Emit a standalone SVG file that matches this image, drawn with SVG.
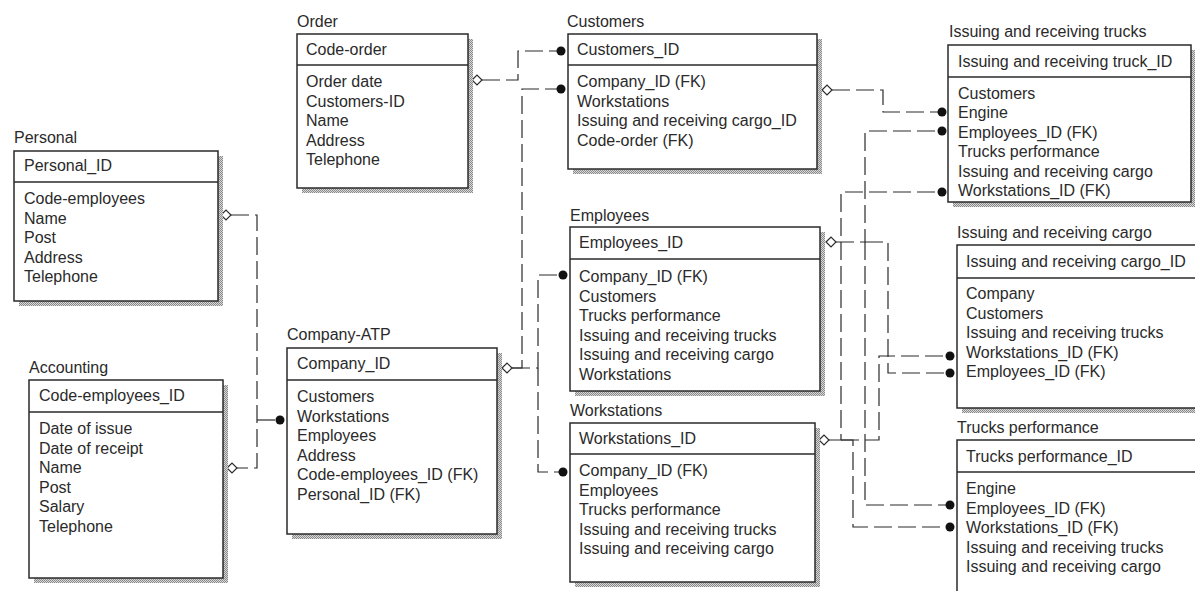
<svg xmlns="http://www.w3.org/2000/svg" width="1195" height="591" viewBox="0 0 1195 591">
<defs>
<pattern id="hatch" width="2" height="2" patternUnits="userSpaceOnUse">
<rect width="2" height="2" fill="#d8d8d8"/>
<rect width="1" height="1" fill="#8a8a8a"/>
<rect x="1" y="1" width="1" height="1" fill="#8a8a8a"/>
</pattern>
<style>
text{font-family:"Liberation Sans",Arial,sans-serif;font-size:16px;fill:#2a2a2a}
.sh{fill:url(#hatch)}
.box{fill:#fff;stroke:#2a2a2a;stroke-width:1.5}
.sep{stroke:#2a2a2a;stroke-width:1.5}
.rel{fill:none;stroke:#2a2a2a;stroke-width:1.2;stroke-dasharray:18 6}
.dia{fill:#fff;stroke:#2a2a2a;stroke-width:1.2}
.dot{fill:#111}
</style>
</defs>
<rect width="1195" height="591" fill="#fff"/>

<g id="connectors">
<path class="rel" d="M231,215 H257 V468 H237"/>
<path class="rel" d="M257,420 H280"/>
<path class="rel" d="M482,80 H518 V51 H561"/>
<path class="rel" d="M512,368 H522 V89 H561"/>
<path class="rel" d="M512,368 H538 V275 H563"/>
<path class="rel" d="M538,368 V472 H563"/>
<path class="rel" d="M832,90 H883 V112 H942"/>
<path class="rel" d="M836,242 H865 V131 H942"/>
<path class="rel" d="M865,242 V505 H950"/>
<path class="rel" d="M865,242 H888 V373 H950"/>
<path class="rel" d="M829,440 H841 V192 H942"/>
<path class="rel" d="M841,440 H879 V356 H950"/>
<path class="rel" d="M841,440 H853 V527 H950"/>
<polygon class="dia" points="221,215 226,210 231,215 226,220"/>
<polygon class="dia" points="227,468 232,463 237,468 232,473"/>
<polygon class="dia" points="472,80 477,75 482,80 477,85"/>
<polygon class="dia" points="502,368 507,363 512,368 507,373"/>
<polygon class="dia" points="822,90 827,85 832,90 827,95"/>
<polygon class="dia" points="826,242 831,237 836,242 831,247"/>
<polygon class="dia" points="819,440 824,435 829,440 824,445"/>
<circle class="dot" cx="280" cy="420" r="4.5"/>
<circle class="dot" cx="561" cy="51" r="4.5"/>
<circle class="dot" cx="561" cy="89" r="4.5"/>
<circle class="dot" cx="563" cy="275" r="4.5"/>
<circle class="dot" cx="563" cy="472" r="4.5"/>
<circle class="dot" cx="942" cy="112" r="4.5"/>
<circle class="dot" cx="942" cy="131" r="4.5"/>
<circle class="dot" cx="942" cy="192" r="4.5"/>
<circle class="dot" cx="950" cy="356" r="4.5"/>
<circle class="dot" cx="950" cy="373" r="4.5"/>
<circle class="dot" cx="950" cy="505" r="4.5"/>
<circle class="dot" cx="950" cy="527" r="4.5"/>
</g>

<g id="personal">
<text x="14" y="143">Personal</text>
<rect class="sh" x="19" y="156" width="204" height="150"/>
<rect class="box" x="14" y="151" width="204" height="150"/>
<line class="sep" x1="14" y1="182" x2="218" y2="182"/>
<text x="24" y="171">Personal_ID</text>
<text x="24" y="204">Code-employees</text>
<text x="24" y="223.5">Name</text>
<text x="24" y="243">Post</text>
<text x="24" y="262.5">Address</text>
<text x="24" y="282">Telephone</text>
</g>

<g id="accounting">
<text x="29" y="373">Accounting</text>
<rect class="sh" x="34" y="385" width="194" height="198"/>
<rect class="box" x="29" y="380" width="194" height="198"/>
<line class="sep" x1="29" y1="412" x2="223" y2="412"/>
<text x="39" y="401">Code-employees_ID</text>
<text x="39" y="434">Date of issue</text>
<text x="39" y="453.5">Date of receipt</text>
<text x="39" y="473">Name</text>
<text x="39" y="492.5">Post</text>
<text x="39" y="512">Salary</text>
<text x="39" y="531.5">Telephone</text>
</g>

<g id="order">
<text x="297" y="27">Order</text>
<rect class="sh" x="302" y="39" width="171" height="154"/>
<rect class="box" x="297" y="34" width="171" height="154"/>
<line class="sep" x1="297" y1="65" x2="468" y2="65"/>
<text x="306" y="55">Code-order</text>
<text x="306" y="87">Order date</text>
<text x="306" y="106.5">Customers-ID</text>
<text x="306" y="126">Name</text>
<text x="306" y="145.5">Address</text>
<text x="306" y="165">Telephone</text>
</g>

<g id="company-atp">
<text x="287" y="340">Company-ATP</text>
<rect class="sh" x="292" y="353" width="210" height="186"/>
<rect class="box" x="287" y="348" width="210" height="186"/>
<line class="sep" x1="287" y1="380" x2="497" y2="380"/>
<text x="297" y="369">Company_ID</text>
<text x="297" y="402">Customers</text>
<text x="297" y="421.5">Workstations</text>
<text x="297" y="441">Employees</text>
<text x="297" y="460.5">Address</text>
<text x="297" y="480">Code-employees_ID (FK)</text>
<text x="297" y="499.5">Personal_ID (FK)</text>
</g>

<g id="customers">
<text x="567" y="27">Customers</text>
<rect class="sh" x="573" y="39" width="249" height="135"/>
<rect class="box" x="568" y="34" width="249" height="135"/>
<line class="sep" x1="568" y1="65" x2="817" y2="65"/>
<text x="577" y="55">Customers_ID</text>
<text x="577" y="87">Company_ID (FK)</text>
<text x="577" y="106.5">Workstations</text>
<text x="577" y="126">Issuing and receiving cargo_ID</text>
<text x="577" y="145.5">Code-order (FK)</text>
</g>

<g id="employees">
<text x="570" y="221">Employees</text>
<rect class="sh" x="575" y="232" width="250" height="164"/>
<rect class="box" x="570" y="227" width="250" height="164"/>
<line class="sep" x1="570" y1="259" x2="820" y2="259"/>
<text x="579" y="248">Employees_ID</text>
<text x="579" y="282">Company_ID (FK)</text>
<text x="579" y="301.5">Customers</text>
<text x="579" y="321">Trucks performance</text>
<text x="579" y="340.5">Issuing and receiving trucks</text>
<text x="579" y="360">Issuing and receiving cargo</text>
<text x="579" y="379.5">Workstations</text>
</g>

<g id="workstations">
<text x="570" y="416">Workstations</text>
<rect class="sh" x="575" y="428" width="245" height="159"/>
<rect class="box" x="570" y="423" width="245" height="159"/>
<line class="sep" x1="570" y1="454" x2="815" y2="454"/>
<text x="579" y="444">Workstations_ID</text>
<text x="579" y="476">Company_ID (FK)</text>
<text x="579" y="495.5">Employees</text>
<text x="579" y="515">Trucks performance</text>
<text x="579" y="534.5">Issuing and receiving trucks</text>
<text x="579" y="554">Issuing and receiving cargo</text>
</g>

<g id="issuing-receiving-trucks">
<text x="949" y="37">Issuing and receiving trucks</text>
<rect class="sh" x="953" y="50" width="243" height="157"/>
<rect class="box" x="948" y="45" width="243" height="157"/>
<line class="sep" x1="948" y1="77" x2="1191" y2="77"/>
<text x="958" y="66.5">Issuing and receiving truck_ID</text>
<text x="958" y="98.5">Customers</text>
<text x="958" y="118">Engine</text>
<text x="958" y="137.5">Employees_ID (FK)</text>
<text x="958" y="157">Trucks performance</text>
<text x="958" y="176.5">Issuing and receiving cargo</text>
<text x="958" y="196">Workstations_ID (FK)</text>
</g>

<g id="issuing-receiving-cargo">
<text x="957" y="238">Issuing and receiving cargo</text>
<rect class="sh" x="962" y="250" width="250" height="163"/>
<rect class="box" x="957" y="245" width="250" height="163"/>
<line class="sep" x1="957" y1="278" x2="1207" y2="278"/>
<text x="966" y="267">Issuing and receiving cargo_ID</text>
<text x="966" y="299">Company</text>
<text x="966" y="318.5">Customers</text>
<text x="966" y="338">Issuing and receiving trucks</text>
<text x="966" y="357.5">Workstations_ID (FK)</text>
<text x="966" y="377">Employees_ID (FK)</text>
</g>

<g id="trucks-performance">
<text x="957" y="433">Trucks performance</text>
<rect class="sh" x="962" y="445" width="250" height="170"/>
<rect class="box" x="957" y="440" width="250" height="170"/>
<line class="sep" x1="957" y1="472" x2="1207" y2="472"/>
<text x="966" y="462">Trucks performance_ID</text>
<text x="966" y="494">Engine</text>
<text x="966" y="513.5">Employees_ID (FK)</text>
<text x="966" y="533">Workstations_ID (FK)</text>
<text x="966" y="552.5">Issuing and receiving trucks</text>
<text x="966" y="572">Issuing and receiving cargo</text>
</g>
</svg>
